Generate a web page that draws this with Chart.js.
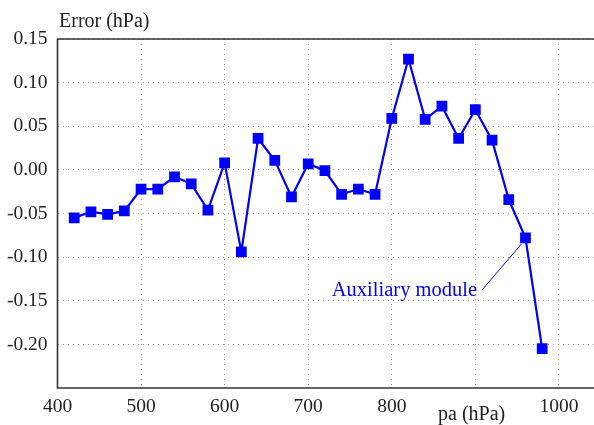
<!DOCTYPE html>
<html><head><meta charset="utf-8">
<script src="https://cdn.jsdelivr.net/npm/chart.js@4/dist/chart.umd.min.js"></script>
<style>html,body{margin:0;padding:0;background:#fff;}#wrap{width:594px;height:425px;}</style>
</head><body><div id="wrap"><canvas id="c" width="594" height="425"></canvas></div>
<script>
const pressures = [420,440,460,480,500,520,540,560,580,600,620,640,660,680,700,720,740,760,780,800,820,840,860,880,900,920,940,960,980];
const errors = [-0.055,-0.048,-0.051,-0.047,-0.022,-0.022,-0.008,-0.016,-0.046,0.008,-0.094,0.036,0.011,-0.031,0.007,-0.001,-0.028,-0.022,-0.028,0.059,0.127,0.058,0.073,0.036,0.069,0.034,-0.034,-0.078,-0.205];
const xTicks = [400,500,600,700,800,900,1000];
const xTickLabels = ["400","500","600","700","800","","1000"];
const yTicks = [0.15,0.10,0.05,0.00,-0.05,-0.10,-0.15,-0.20];
const annotationText = "Auxiliary module";
const annotationIndex = 27;
const yTitle = "Error (hPa)";
const xTitle = "pa (hPa)";

const FONT = "'Liberation Serif', 'Times New Roman', serif";

const frame = {
  id: 'frame',
  afterDraw(chart) {
    const {ctx, chartArea: a, scales} = chart;
    ctx.save();
    ctx.strokeStyle = '#333';
    ctx.lineWidth = 1.6;
    ctx.beginPath();
    ctx.moveTo(a.right + 2, a.top); ctx.lineTo(a.left, a.top);
    ctx.lineTo(a.left, a.bottom); ctx.lineTo(a.right + 2, a.bottom);
    ctx.stroke();
    ctx.fillStyle = '#222';
    ctx.font = '20px ' + FONT;
    ctx.textBaseline = 'alphabetic';
    ctx.textAlign = 'left';
    ctx.fillText(yTitle, 59, 27);
    ctx.fillText(xTitle, 438, 420);
    // annotation
    const px = scales.x.getPixelForValue(pressures[annotationIndex]);
    const py = scales.y.getPixelForValue(errors[annotationIndex]);
    ctx.fillStyle = '#0000ff';
    ctx.font = '20.5px ' + FONT;
    ctx.textAlign = 'right';
    ctx.fillText(annotationText, 477, 296);
    ctx.strokeStyle = '#0000ff';
    ctx.lineWidth = 1;
    ctx.beginPath();
    ctx.moveTo(482, 290);
    ctx.lineTo(px - 4, py + 6);
    ctx.stroke();
    ctx.restore();
  }
};

new Chart(document.getElementById('c'), {
  type: 'line',
  data: {
    datasets: [{
      data: pressures.map((p, i) => ({x: p, y: errors[i]})),
      borderColor: '#0000ff',
      backgroundColor: '#0000ff',
      borderWidth: 2.2,
      pointStyle: 'rect',
      pointRadius: 7.6,
      pointHoverRadius: 7.6,
      pointBorderWidth: 0,
      tension: 0
    }]
  },
  options: {
    responsive: false,
    animation: false,
    events: [],
    layout: {autoPadding: false, padding: {top: 39, right: 0, left: 0, bottom: 0}},
    plugins: {legend: {display: false}, tooltip: {enabled: false}},
    scales: {
      x: {
        type: 'linear',
        min: 400, max: 1042,
        afterBuildTicks(s) { s.ticks = xTicks.map(v => ({value: v})); },
        afterFit(s) { s.height = 37; s.paddingLeft = 0; s.paddingRight = 0; },
        grid: {color: '#999', lineWidth: 1, drawTicks: false},
        border: {display: false, dash: [1, 4]},
        ticks: {color: '#222', font: {family: FONT, size: 19.5}, padding: 7, maxRotation: 0, autoSkip: false,
          callback: v => { const i = xTicks.indexOf(v); return i >= 0 ? xTickLabels[i] : ''; }}
      },
      y: {
        type: 'linear',
        min: -0.25, max: 0.15,
        afterBuildTicks(s) { s.ticks = yTicks.map(v => ({value: v})); },
        afterFit(s) { s.width = 57.5; s.paddingTop = 0; s.paddingBottom = 0; },
        grid: {color: '#999', lineWidth: 1, drawTicks: false},
        border: {display: false, dash: [1, 4]},
        ticks: {color: '#222', font: {family: FONT, size: 19.5}, padding: 10, autoSkip: false,
          callback: v => (Math.abs(v) < 1e-9 ? 0 : v).toFixed(2)}
      }
    }
  },
  plugins: [frame]
});
</script>
</body></html>
